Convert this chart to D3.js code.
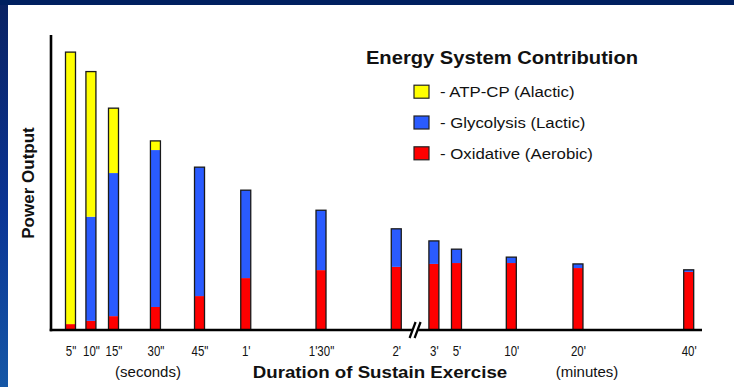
<!DOCTYPE html>
<html>
<head>
<meta charset="utf-8">
<script src="https://cdn.jsdelivr.net/npm/d3@7"></script>
<style>
  html, body { margin: 0; padding: 0; background: #fff; }
  svg { display: block; }
</style>
</head>
<body>
<svg id="chart" width="734" height="387"></svg>
<script>
// Exercise durations and where each one sits along the stretched time axis
const durations = ["5\"", "10\"", "15\"", "30\"", "45\"", "1'", "1'30\"", "2'", "3'", "5'", "10'", "20'", "40'"];
const tickAt = [0, 1.9, 4, 7.9, 12, 16.3, 23.3, 30.3, 33.8, 35.9, 41, 47.2, 57.5];
const breakAt = 32.05;

// Contribution of each energy system to power output (arbitrary units)
const oxidative  = [2.0, 3.1, 4.7, 7.8, 11.5, 17.6, 20.3, 21.4, 22.4, 22.7, 22.7, 21.0, 19.7];
const glycolysis = [0.0, 35.3, 48.5, 53.2, 43.7, 29.8, 20.3, 12.9, 7.8, 4.7, 2.0, 1.4, 0.7];
const atpcp      = [92.2, 49.2, 22.0, 3.1, 0, 0, 0, 0, 0, 0, 0, 0, 0];

const systems = ["oxidative", "glycolysis", "atpcp"];
const legendLabels = ["- ATP-CP (Alactic)", "- Glycolysis (Lactic)", "- Oxidative (Aerobic)"];
const legendKeys = ["atpcp", "glycolysis", "oxidative"];
const colors = { atpcp: "#ffff00", glycolysis: "#2a5bff", oxidative: "#ff0000" };

const svg = d3.select("#chart");
const W = 734, H = 387;
const font = "'Liberation Sans', Arial, Helvetica, sans-serif";

// Frame: dark band along the top, gradient band down the left edge
const defs = svg.append("defs");
const grad = defs.append("linearGradient").attr("id", "sideBand")
  .attr("x1", 0).attr("y1", 0).attr("x2", 0).attr("y2", 1);
grad.append("stop").attr("offset", "0%").attr("stop-color", "#0a2262");
grad.append("stop").attr("offset", "55%").attr("stop-color", "#0b3595");
grad.append("stop").attr("offset", "100%").attr("stop-color", "#1557a6");

svg.append("rect").attr("x", 0).attr("y", 0).attr("width", W).attr("height", H).attr("fill", "#fff");
svg.append("rect").attr("x", 0).attr("y", 0).attr("width", 8).attr("height", H).attr("fill", "url(#sideBand)");
svg.append("rect").attr("x", 0).attr("y", 0).attr("width", W).attr("height", 5).attr("fill", "#002060");

// Text placed at (x, y) and stretched horizontally by sx
function label(parent, x, y, txt, opts) {
  const o = Object.assign({ size: 14, weight: "normal", anchor: "middle", sx: 1, dy: "0" }, opts);
  return parent.append("text")
    .attr("transform", `translate(${x},${y}) scale(${o.sx},1)`)
    .attr("text-anchor", o.anchor)
    .attr("dy", o.dy)
    .style("font-family", font)
    .style("font-weight", o.weight)
    .style("font-size", o.size + "px")
    .attr("fill", "#111")
    .text(txt);
}

// Scales
const x0 = 51, baseY = 330;
const x = d3.scaleLinear().domain([0, 57.5]).range([70.5, 688.7]);
const y = d3.scaleLinear().domain([0, 100]).range([baseY, 35]);

const rows = durations.map((d, i) => ({
  label: d, at: tickAt[i],
  oxidative: oxidative[i], glycolysis: glycolysis[i], atpcp: atpcp[i]
}));
const stacked = d3.stack().keys(systems)(rows);

const barW = 10;
const g = svg.append("g");

// Stacked bars
g.selectAll("g.layer").data(stacked).join("g")
  .attr("class", "layer")
  .attr("fill", d => colors[d.key])
  .selectAll("rect").data(d => d.filter(s => s[1] - s[0] > 0)).join("rect")
  .attr("x", d => x(d.data.at) - barW / 2)
  .attr("y", d => y(d[1]))
  .attr("width", barW)
  .attr("height", d => y(d[0]) - y(d[1]));

// Outline around each whole bar
g.selectAll("rect.outline").data(rows).join("rect")
  .attr("class", "outline")
  .attr("x", d => x(d.at) - barW / 2)
  .attr("y", d => y(d.oxidative + d.glycolysis + d.atpcp))
  .attr("width", barW)
  .attr("height", d => baseY - y(d.oxidative + d.glycolysis + d.atpcp))
  .attr("fill", "none")
  .attr("stroke", "#1a1a1a")
  .attr("stroke-width", 1.3);

// Axes
const bx = x(breakAt);
svg.append("line").attr("x1", x0).attr("x2", x0).attr("y1", 35).attr("y2", baseY + 1.2)
  .attr("stroke", "#000").attr("stroke-width", 2.6);
svg.append("line").attr("x1", x0 - 1.3).attr("x2", bx - 3).attr("y1", baseY).attr("y2", baseY)
  .attr("stroke", "#000").attr("stroke-width", 2.6);
svg.append("line").attr("x1", bx + 3).attr("x2", 702).attr("y1", baseY).attr("y2", baseY)
  .attr("stroke", "#000").attr("stroke-width", 2.6);

// Axis break marks
[-2.5, 2.5].forEach(dx => {
  svg.append("line")
    .attr("x1", bx + dx - 3).attr("y1", baseY + 8)
    .attr("x2", bx + dx + 3).attr("y2", baseY - 8)
    .attr("stroke", "#000").attr("stroke-width", 2.2);
});

// Tick labels (narrow lettering)
const xAxis = d3.axisBottom(x)
  .tickValues(tickAt)
  .tickFormat((d, i) => durations[i])
  .tickSize(0)
  .tickPadding(0);
const ax = svg.append("g").attr("transform", `translate(0,${baseY + 21})`).call(xAxis);
ax.select(".domain").remove();
ax.selectAll("text")
  .attr("y", 0)
  .attr("dy", "0.35em")
  .attr("transform", "scale(0.82,1)")
  .style("font-family", font)
  .style("font-size", "14px")
  .attr("fill", "#111");
ax.selectAll(".tick").each(function () {
  // keep the narrowed label centred on its tick
  const t = d3.select(this);
  const tx = +t.attr("transform").match(/translate\(([-\d.]+)/)[1];
  t.attr("transform", `translate(${tx},0)`);
  t.select("text").attr("transform", "scale(0.82,1)");
});

// Axis titles
label(svg, 148, 377, "(seconds)", { size: 15, sx: 1.0 });
label(svg, 380, 378, "Duration of Sustain Exercise", { size: 17, weight: "bold", sx: 1.1 });
label(svg, 587, 377, "(minutes)", { size: 15, sx: 1.0 });
svg.append("text")
  .attr("transform", "translate(34,183) rotate(-90)")
  .attr("text-anchor", "middle")
  .style("font-family", font).style("font-weight", "bold")
  .style("font-size", "17px").attr("fill", "#111").text("Power Output");

// Legend
label(svg, 502, 64, "Energy System Contribution", { size: 18, weight: "bold", sx: 1.12 });
const lg = svg.append("g");
legendKeys.forEach((k, i) => {
  const cy = 91.7 + i * 30.8;
  lg.append("rect").attr("x", 414).attr("y", cy - 6.5).attr("width", 15).attr("height", 13)
    .attr("fill", colors[k]).attr("stroke", "#222").attr("stroke-width", 1.2);
  label(lg, 440, cy, legendLabels[i], { size: 15, anchor: "start", sx: 1.12, dy: "0.35em" });
});
</script>
</body>
</html>
